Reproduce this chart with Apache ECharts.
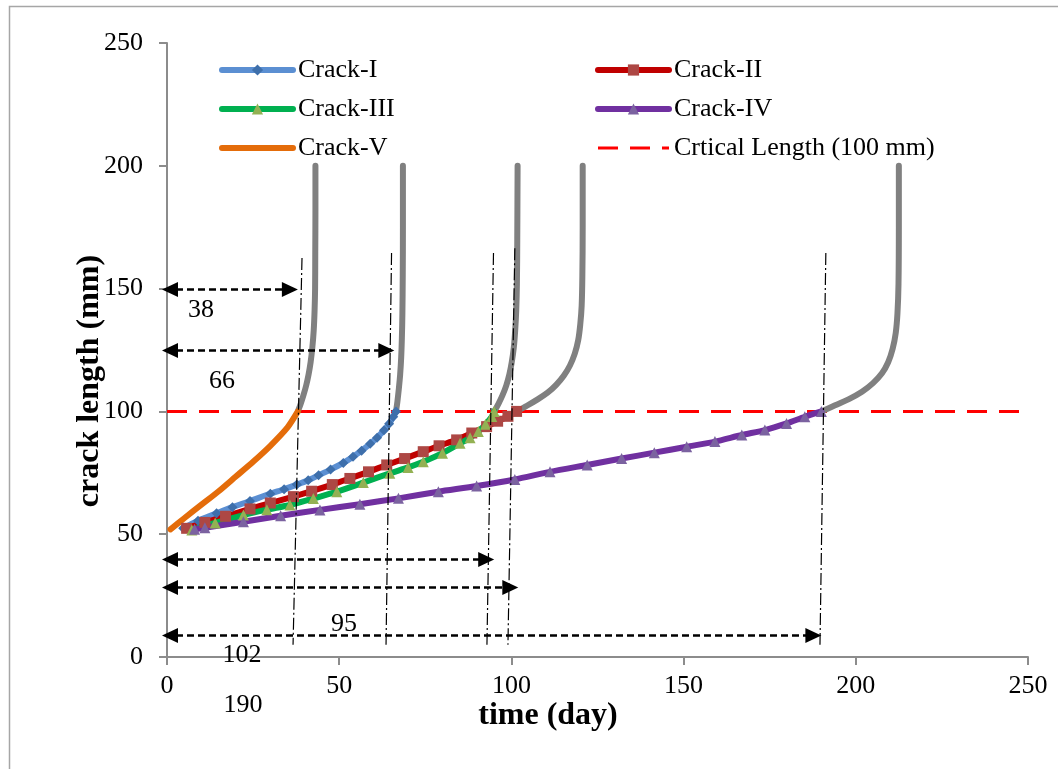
<!DOCTYPE html>
<html>
<head>
<meta charset="utf-8">
<script src="https://cdn.jsdelivr.net/npm/echarts@6/dist/echarts.min.js"></script>
<style>
  html, body { margin: 0; padding: 0; background: #ffffff; }
  #chart { width: 1058px; height: 769px; }
</style>
</head>
<body>
<div id="chart"></div>
<script>
// Crack growth: crack length (mm) against time (day) for five cracks

const crack1T = [4.7, 9, 14.4, 19, 24.1, 30, 34, 37.7, 41, 44, 47.5, 51.2, 54, 56.5, 59, 61, 63, 64.5, 65.7, 66.5];
const crack1L = [52.4, 55.5, 58.5, 61, 63.5, 66.5, 68.3, 70.2, 72, 74, 76.3, 79, 81.5, 84, 86.8, 89.3, 92.3, 95, 97.8, 100];

const crack2T = [5.7, 11, 17, 24.1, 30, 36.7, 42, 48, 53.1, 58.5, 63.8, 69, 74.4, 79, 84.1, 88.5, 92.8, 96, 99, 101.5];
const crack2L = [52.4, 54.8, 57.3, 60.3, 62.7, 65.3, 67.5, 70.2, 72.7, 75.4, 78.2, 80.8, 83.6, 86, 88.4, 91.2, 93.8, 96, 98, 100];

const crack3T = [7.2, 14, 22.2, 29, 35.7, 42.5, 49.3, 57, 64.7, 70, 74.4, 80, 85.1, 88, 90.4, 92.5, 94.3, 95];
const crack3L = [51.7, 54.6, 57.8, 60, 61.9, 64.5, 67.3, 71, 74.8, 77.2, 79.5, 83, 87, 89.3, 91.8, 94.8, 97.9, 100];

const crack4T = [8, 11, 22.2, 33, 44.4, 56, 67.2, 78.8, 89.9, 101, 111.2, 122, 132, 141.5, 150.9, 159.1, 166.9, 173.6, 179.9, 185.2, 190];
const crack4L = [52, 52.6, 55.1, 57.5, 59.9, 62.2, 64.6, 67.3, 69.6, 72.3, 75.4, 78.2, 80.8, 83.2, 85.6, 87.7, 90.4, 92.4, 95.1, 97.8, 100];

const crack5T = [1, 5, 10, 15, 20, 25, 30, 35, 38];
const crack5L = [52, 56.5, 62, 67.5, 73.5, 79.5, 86, 93.5, 100];

// unstable growth beyond the critical length
const unstable1T = [38, 38.8, 39.6, 40.4, 41.1, 41.7, 42.2, 42.6, 42.85, 43, 43.05, 43.1, 43.1];
const unstable1L = [100, 103, 106.5, 110.5, 115, 120, 126, 133, 141, 150, 165, 182, 200];
const unstable2T = [66.5, 66.9, 67.3, 67.7, 68, 68.2, 68.35, 68.45, 68.5, 68.5];
const unstable2L = [100, 104, 109, 115, 122, 130, 140, 155, 175, 200];
const unstable3T = [95, 96.2, 97.4, 98.5, 99.4, 100.1, 100.7, 101.1, 101.4, 101.6, 101.7, 101.8];
const unstable3L = [100, 103, 106.5, 110.5, 115, 120, 126, 133, 141, 152, 170, 200];
const unstable4T = [101.5, 104.5, 107.5, 110.5, 113, 115.2, 117, 118.4, 119.4, 120, 120.4, 120.6, 120.7, 120.7];
const unstable4L = [100, 102.3, 104.8, 107.6, 110.8, 114.5, 118.7, 123.5, 129, 135.5, 143, 155, 175, 200];
const unstable5T = [190, 194, 198, 201.8, 205, 207.6, 209.4, 210.7, 211.6, 212.1, 212.4, 212.5, 212.5];
const unstable5L = [100, 102.5, 105, 108, 111.5, 115.5, 120, 125.5, 132, 140, 152, 175, 200];

const criticalT = [0, 250];
const criticalL = [100, 100];

// dash-dot guide lines at the critical times
const guideTopT = [39.2, 65.2, 94.8, 101.0, 191.3];
const guideTopL = [162.5, 164.5, 164.5, 166.4, 164.5];
const guideBottomT = [36.6, 63.6, 92.9, 99.0, 189.6];
const guideBottomL = [5, 5, 5, 5, 5];

// double-headed dimension arrows and their numbers
const arrowLevels = [150, 125, 40, 28.5, 9];
const arrowEnds = [38, 66, 95, 102, 190];
const noteTexts = ['38', '66', '95', '102', '190'];
const noteT = [9.9, 16, 51.4, 21.8, 22.1];
const noteL = [141.3, 112.4, 13.4, 0.8, -19.5];

const xTickValues = [0, 50, 100, 150, 200, 250];
const yTickValues = [0, 50, 100, 150, 200, 250];

const SERIF = "'Liberation Serif', 'Times New Roman', serif";
const AXIS_GRAY = '#8c8c8c';

const pairs = (t, l) => t.map((x, i) => [x, l[i]]);

function crackSeries(name, t, l, lineColor, symbol, symbolColor, symbolSize) {
  return {
    type: 'line', name: name, data: pairs(t, l),
    smooth: 0.25,
    symbol: symbol, symbolSize: symbolSize, showSymbol: symbol !== 'none',
    lineStyle: { color: lineColor, width: 6, cap: 'round', join: 'round' },
    itemStyle: { color: symbolColor },
    silent: true, animation: false, z: 5
  };
}

function unstableSeries(t, l) {
  return {
    type: 'line', name: 'unstable', data: pairs(t, l),
    smooth: 0.35, symbol: 'none',
    lineStyle: { color: '#808080', width: 6, cap: 'round', join: 'round' },
    silent: true, animation: false, z: 4
  };
}

function guideSeries(i) {
  return {
    type: 'line', name: 'guide' + i,
    data: [[guideTopT[i], guideTopL[i]], [guideBottomT[i], guideBottomL[i]]],
    symbol: 'none',
    lineStyle: { color: '#000000', width: 1.2, type: [12, 3, 2, 3] },
    silent: true, animation: false, z: 8
  };
}

const chart = echarts.init(document.getElementById('chart'), null, { renderer: 'canvas' });

const legendText = { fontFamily: SERIF, fontSize: 26, color: '#000000', lineHeight: 26 };
const legendCommon = {
  orient: 'vertical', top: 57, padding: 0,
  itemWidth: 71, itemHeight: 14, itemGap: 13,
  textStyle: legendText, selectedMode: false,
  lineStyle: { width: 6 }
};

chart.setOption({
  backgroundColor: '#ffffff',
  animation: false,
  grid: { left: 167, right: 30, top: 43, bottom: 112, containLabel: false },
  legend: [
    Object.assign({}, legendCommon, {
      left: 219,
      data: ['Crack-I', 'Crack-III', { name: 'Crack-V', itemStyle: { opacity: 0 } }]
    }),
    Object.assign({}, legendCommon, {
      left: 595,
      data: ['Crack-II', 'Crack-IV', {
        name: 'Crtical Length (100 mm)', itemStyle: { opacity: 0 },
        lineStyle: { width: 3, type: [20, 12] }
      }]
    })
  ],
  xAxis: {
    type: 'value', min: 0, max: 250, interval: 50,
    axisLine: { show: true, lineStyle: { color: AXIS_GRAY, width: 2 } },
    axisTick: { show: true, length: 8, lineStyle: { color: AXIS_GRAY, width: 2 } },
    axisLabel: {
      fontFamily: SERIF, fontSize: 26, color: '#000000', margin: 16,
      formatter: v => (xTickValues.indexOf(v) >= 0 ? String(v) : '')
    },
    splitLine: { show: false }
  },
  yAxis: {
    type: 'value', min: 0, max: 250, interval: 50,
    axisLine: { show: true, lineStyle: { color: AXIS_GRAY, width: 2 } },
    axisTick: { show: true, length: 8, lineStyle: { color: AXIS_GRAY, width: 2 } },
    axisLabel: {
      fontFamily: SERIF, fontSize: 26, color: '#000000', margin: 24,
      formatter: v => (yTickValues.indexOf(v) >= 0 ? String(v) : '')
    },
    splitLine: { show: false }
  },
  series: [
    {
      type: 'line', name: 'Crtical Length (100 mm)', data: pairs(criticalT, criticalL),
      symbol: 'none', lineStyle: { color: '#ff0000', width: 3, type: [20, 12] },
      itemStyle: { color: '#ff0000' }, silent: true, animation: false, z: 3
    },
    unstableSeries(unstable1T, unstable1L),
    unstableSeries(unstable2T, unstable2L),
    unstableSeries(unstable3T, unstable3L),
    unstableSeries(unstable4T, unstable4L),
    unstableSeries(unstable5T, unstable5L),
    crackSeries('Crack-I', crack1T, crack1L, '#5b8fd2', 'diamond', '#3e6fab', 10),
    crackSeries('Crack-II', crack2T, crack2L, '#c00000', 'rect', '#ad4744', 11),
    crackSeries('Crack-III', crack3T, crack3L, '#00b050', 'triangle', '#93b153', 11),
    crackSeries('Crack-IV', crack4T, crack4L, '#7030a0', 'triangle', '#7b62a0', 11),
    crackSeries('Crack-V', crack5T, crack5L, '#e46c0a', 'none', '#e46c0a', 4),
    guideSeries(0), guideSeries(1), guideSeries(2), guideSeries(3), guideSeries(4)
  ]
});

// axis titles, dimension arrows, their numbers and the outer frame
function buildNotes() {
  const els = [];
  const pt = (t, l) => chart.convertToPixel({ gridIndex: 0 }, [t, l]);
  const head = 16, half = 7.5;
  arrowLevels.forEach((lv, i) => {
    const a = pt(0, lv), b = pt(arrowEnds[i], lv);
    const x1 = a[0] - 5, x2 = b[0], y = Math.round(a[1]) + 0.5;
    els.push({
      type: 'line', silent: true, z: 20,
      shape: { x1: x1 + head - 2, y1: y, x2: x2 - head + 2, y2: y },
      style: { stroke: '#000000', lineWidth: 2.5, lineDash: [7, 4] }
    });
    els.push({
      type: 'polygon', silent: true, z: 20,
      shape: { points: [[x1, y], [x1 + head, y - half], [x1 + head, y + half]] },
      style: { fill: '#000000' }
    });
    els.push({
      type: 'polygon', silent: true, z: 20,
      shape: { points: [[x2, y], [x2 - head, y - half], [x2 - head, y + half]] },
      style: { fill: '#000000' }
    });
  });
  noteTexts.forEach((txt, i) => {
    const p = pt(noteT[i], noteL[i]);
    els.push({
      type: 'text', silent: true, z: 21, x: p[0], y: p[1],
      style: { text: txt, font: '26px ' + SERIF, fill: '#000000', align: 'center', verticalAlign: 'middle' }
    });
  });
  els.push({
    type: 'text', silent: true, z: 21, x: 548, y: 716,
    style: { text: 'time (day)', font: 'bold 32px ' + SERIF, fill: '#000000', align: 'center', verticalAlign: 'middle' }
  });
  els.push({
    type: 'text', silent: true, z: 21, x: 90, y: 381, rotation: Math.PI / 2,
    style: { text: 'crack length (mm)', font: 'bold 32px ' + SERIF, fill: '#000000', align: 'center', verticalAlign: 'middle' }
  });
  els.push({
    type: 'rect', silent: true, z: 0,
    shape: { x: 9.5, y: 6.5, width: 1200, height: 900 },
    style: { fill: 'none', stroke: '#a6a6a6', lineWidth: 1.5 }
  });
  chart.setOption({ graphic: els });
}
buildNotes();
</script>
</body>
</html>
